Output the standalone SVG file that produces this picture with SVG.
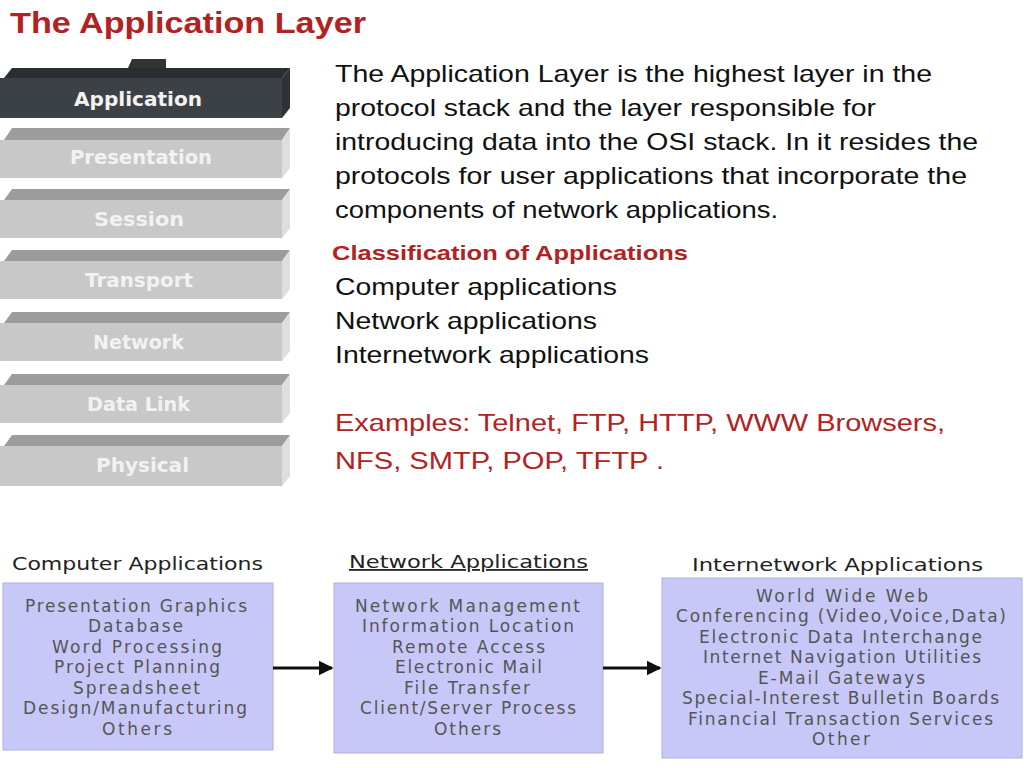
<svg xmlns="http://www.w3.org/2000/svg" width="1024" height="768" viewBox="0 0 1024 768">
<defs>
<style>
.t{font-family:"Liberation Sans",Arial,sans-serif}
.lay{font-family:"DejaVu Sans",sans-serif;font-weight:bold;font-size:19px;fill:#f2f2f2}
.front{fill:#c8c8c8}.top{fill:#9c9c9c}.side{fill:#dedede}
.box{fill:#c8c8f8;stroke:#b0b0d8;stroke-width:1}
.bt{font-family:"DejaVu Sans",sans-serif;font-size:17px;fill:#555}
.hd{font-family:"DejaVu Sans",sans-serif;font-size:18px;fill:#222}
</style>
<marker id="ar" viewBox="0 0 10 10" refX="9" refY="5" markerWidth="5" markerHeight="5" orient="auto"><path d="M0,0L10,5L0,10z" fill="#111"/></marker>
</defs>
<rect width="1024" height="768" fill="#fff"/>
<text class="t" x="10" y="33" font-size="29" font-weight="bold" fill="#b22222" textLength="356" lengthAdjust="spacingAndGlyphs">The Application Layer</text>
<g id="stack" lengthAdjust="spacingAndGlyphs">
<g id="app"><path d="M128,68 L132,59 L166,59 L166,68 Z" fill="#333"/><path d="M4,78 L12,68 L290,68 L282,78 Z" fill="#2a2e32"/><rect x="0" y="78" width="282" height="40" fill="#3c4146"/><path d="M282,78 L290,68 L290,108 L282,118Z" fill="#2e3236"/><text class="lay" x="74" y="106" textLength="128" lengthAdjust="spacingAndGlyphs">Application</text></g>
<g id="pres"><path d="M4,140 L12,128 L290,128 L282,140Z" class="top"/><rect x="0" y="140" width="282" height="38" class="front"/><path d="M282,140 L290,128 L290,168 L282,178Z" class="side"/><text class="lay" x="70" y="164" textLength="142" lengthAdjust="spacingAndGlyphs">Presentation</text></g>
<g id="sess"><path d="M4,200 L12,189 L290,189 L282,200Z" class="top"/><rect x="0" y="200" width="282" height="38" class="front"/><path d="M282,200 L290,189 L290,228 L282,238Z" class="side"/><text class="lay" x="94" y="226" textLength="90" lengthAdjust="spacingAndGlyphs">Session</text></g>
<g id="trans"><path d="M4,261 L12,250 L290,250 L282,261Z" class="top"/><rect x="0" y="261" width="282" height="38" class="front"/><path d="M282,261 L290,250 L290,289 L282,299Z" class="side"/><text class="lay" x="85" y="287" textLength="108" lengthAdjust="spacingAndGlyphs">Transport</text></g>
<g id="net"><path d="M4,323 L12,312 L290,312 L282,323Z" class="top"/><rect x="0" y="323" width="282" height="38" class="front"/><path d="M282,323 L290,312 L290,351 L282,361Z" class="side"/><text class="lay" x="93" y="349" textLength="91" lengthAdjust="spacingAndGlyphs">Network</text></g>
<g id="dl"><path d="M4,385 L12,374 L290,374 L282,385Z" class="top"/><rect x="0" y="385" width="282" height="38" class="front"/><path d="M282,385 L290,374 L290,413 L282,423Z" class="side"/><text class="lay" x="87" y="411" textLength="103" lengthAdjust="spacingAndGlyphs">Data Link</text></g>
<g id="phys"><path d="M4,446 L12,435 L290,435 L282,446Z" class="top"/><rect x="0" y="446" width="282" height="40" class="front"/><path d="M282,446 L290,435 L290,476 L282,486Z" class="side"/><text class="lay" x="96" y="472" textLength="93" lengthAdjust="spacingAndGlyphs">Physical</text></g>
</g>
<g class="t" font-size="24" fill="#111">
<text x="335" y="82" textLength="597" lengthAdjust="spacingAndGlyphs">The Application Layer is the highest layer in the</text>
<text x="335" y="116" textLength="541" lengthAdjust="spacingAndGlyphs">protocol stack and the layer responsible for</text>
<text x="335" y="150" textLength="643" lengthAdjust="spacingAndGlyphs">introducing data into the OSI stack. In it resides the</text>
<text x="335" y="184" textLength="632" lengthAdjust="spacingAndGlyphs">protocols for user applications that incorporate the</text>
<text x="335" y="218" textLength="443" lengthAdjust="spacingAndGlyphs">components of network applications.</text>
<text x="332" y="260" font-size="21" font-weight="bold" fill="#b22222" textLength="356" lengthAdjust="spacingAndGlyphs">Classification of Applications</text>
<text x="335" y="295" textLength="282" lengthAdjust="spacingAndGlyphs">Computer applications</text>
<text x="335" y="329" textLength="262" lengthAdjust="spacingAndGlyphs">Network applications</text>
<text x="335" y="363" textLength="314" lengthAdjust="spacingAndGlyphs">Internetwork applications</text>
<text x="335" y="431" fill="#b22222" textLength="610" lengthAdjust="spacingAndGlyphs">Examples: Telnet, FTP, HTTP, WWW Browsers,</text>
<text x="335" y="469" fill="#b22222" textLength="329" lengthAdjust="spacingAndGlyphs">NFS, SMTP, POP, TFTP .</text>
</g>
<g id="n1"><text class="hd" x="12" y="570" textLength="251" lengthAdjust="spacingAndGlyphs">Computer Applications</text><rect class="box" x="3" y="583" width="270" height="167"/>
<g class="bt" lengthAdjust="spacingAndGlyphs"><text x="25" y="612" textLength="222">Presentation Graphics</text><text x="88" y="632" textLength="95">Database</text><text x="52" y="653" textLength="170">Word Processing</text><text x="54" y="673" textLength="166">Project Planning</text><text x="73" y="694" textLength="127">Spreadsheet</text><text x="23" y="714" textLength="224">Design/Manufacturing</text><text x="102" y="735" textLength="70">Others</text></g></g>
<g id="n2"><text class="hd" x="349" y="568" text-decoration="underline" textLength="239" lengthAdjust="spacingAndGlyphs">Network Applications</text><rect class="box" x="334" y="583" width="269" height="170"/>
<g class="bt"><text x="355" y="612" textLength="225">Network Management</text><text x="362" y="632" textLength="212">Information Location</text><text x="392" y="653" textLength="153">Remote Access</text><text x="395" y="673" textLength="147">Electronic Mail</text><text x="404" y="694" textLength="126">File Transfer</text><text x="360" y="714" textLength="216">Client/Server Process</text><text x="434" y="735" textLength="67">Others</text></g></g>
<g id="n3"><text class="hd" x="692" y="571" textLength="291" lengthAdjust="spacingAndGlyphs">Internetwork Applications</text><rect class="box" x="662" y="578" width="360" height="180"/>
<g class="bt"><text x="756" y="602" textLength="172">World Wide Web</text><text x="676" y="622" textLength="330">Conferencing (Video,Voice,Data)</text><text x="699" y="643" textLength="283">Electronic Data Interchange</text><text x="703" y="663" textLength="278">Internet Navigation Utilities</text><text x="758" y="684" textLength="167">E-Mail Gateways</text><text x="682" y="704" textLength="317">Special-Interest Bulletin Boards</text><text x="688" y="725" textLength="305">Financial Transaction Services</text><text x="812" y="745" textLength="58">Other</text></g></g>
<g id="connectors" stroke="#111" stroke-width="3" marker-end="url(#ar)">
<line x1="273" y1="668" x2="332" y2="668"/>
<line x1="603" y1="668" x2="660" y2="668"/>
</g>
</svg>
